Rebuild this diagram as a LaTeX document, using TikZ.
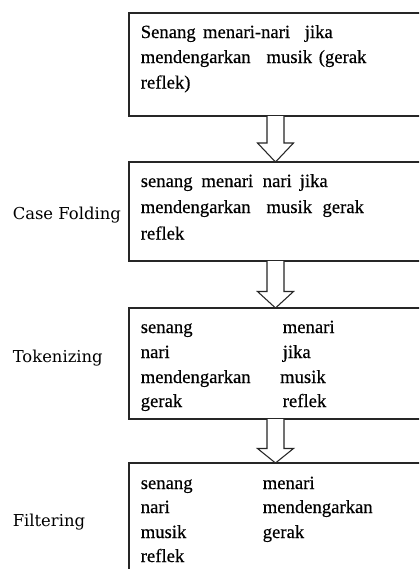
\documentclass[tikz,border=0pt]{standalone}
\usepackage{fontspec}
\setmainfont{Liberation Serif}[FakeBold=0.4]
\newfontfamily\labelfamily{DejaVu Serif}
\usetikzlibrary{calc,fit}

% place a word in a fixed-width slot so the next word starts at a set offset
\newcommand\wordat[2]{\makebox[#1][l]{#2}}

% hollow block arrow between two stacked boxes: from box, to box, head length
\newcommand\flowarrow[3]{%
  \coordinate (#1-out) at (#1.south west -| ax);
  \coordinate (#2-in) at (#2.north west -| ax);
  \draw[blockarrow] ($(#1-out)+(-8.5,0)$) -- ($(#2-in)+(-8.5,-#3)$)
    -- ($(#2-in)+(-18,-#3)$) -- (#2-in) -- ($(#2-in)+(18,-#3)$)
    -- ($(#2-in)+(8.5,-#3)$) -- ($(#1-out)+(8.5,0)$);
}

\tikzset{
  x=0.75pt, y=-0.75pt,
  box/.style={draw=black!85, line width=0.8pt, inner sep=0pt, outer sep=0pt},
  boxtext/.style={anchor=base west, inner sep=0pt,
    font=\fontsize{14pt}{17pt}\selectfont},
  steplabel/.style={anchor=base west, inner sep=0pt,
    font=\labelfamily\fontsize{12.3pt}{15pt}\selectfont},
  blockarrow/.style={draw=black!85, line width=0.8pt, fill=white, line join=miter}
}

\begin{document}
\begin{tikzpicture}
\useasboundingbox (0,0) rectangle (419,569);
\fill[white] (0,0) rectangle (419,569);
\clip (0,0) rectangle (419,569);

% stage boxes (they run off the right and bottom edges)
\node[box, fit={(129,13) (430,116)}]  (b1) {};
\node[box, fit={(129,162) (430,261)}] (b2) {};
\node[box, fit={(129,308) (430,419)}] (b3) {};
\node[box, fit={(129,463) (430,590)}] (b4) {};

% arrows between the stages
\coordinate (ax) at (275.5,0);
\flowarrow{b1}{b2}{19}
\flowarrow{b2}{b3}{16.5}
\flowarrow{b3}{b4}{14.5}

% input sentence (justified lines, so the word gaps are wide)
\node[boxtext] (t1a) at (140.5,38)   {Senang\hspace{5.5pt}menari-nari\hspace{11pt}jika};
\node[boxtext] (t1b) at (140.5,63)   {\wordat{94.3pt}{mendengarkan}\wordat{39.2pt}{musik}(gerak};
\node[boxtext] (t1c) at (140.5,88.5) {reflek)};

% case folding
\node[steplabel] (l2) at (12.5,219) {Case Folding};
\node[boxtext] (t2a) at (140.5,187)   {\wordat{45.5pt}{senang}\wordat{46pt}{menari}\wordat{27.75pt}{nari}jika};
\node[boxtext] (t2b) at (140.5,213)   {\wordat{94.3pt}{mendengarkan}\wordat{42pt}{musik}gerak};
\node[boxtext] (t2c) at (140.5,239.5) {reflek};

% tokenizing
\node[steplabel] (l3) at (12.5,362) {Tokenizing};
\node[boxtext] (t3a) at (140.5,333) {\wordat{106.5pt}{senang}menari};
\node[boxtext] (t3b) at (140.5,358) {\wordat{106.5pt}{nari}jika};
\node[boxtext] (t3c) at (140.5,383) {\wordat{104.5pt}{mendengarkan}musik};
\node[boxtext] (t3d) at (140.5,407) {\wordat{106.5pt}{gerak}reflek};

% filtering
\node[steplabel] (l4) at (12.5,526) {Filtering};
\node[boxtext] (t4a) at (140.5,489) {\wordat{91.5pt}{senang}menari};
\node[boxtext] (t4b) at (140.5,513) {\wordat{91.5pt}{nari}mendengarkan};
\node[boxtext] (t4c) at (140.5,538) {\wordat{91.5pt}{musik}gerak};
\node[boxtext] (t4d) at (140.5,562) {reflek};
\end{tikzpicture}
\end{document}
